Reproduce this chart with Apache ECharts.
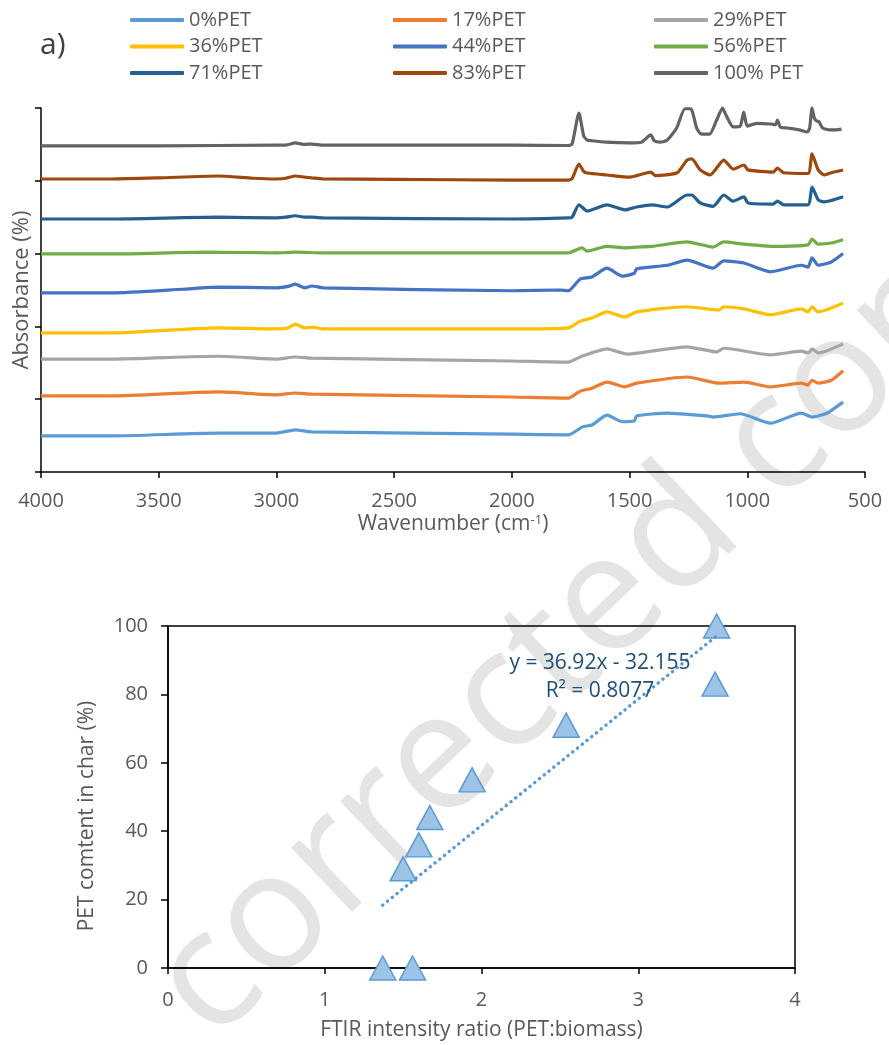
<!DOCTYPE html>
<html><head><meta charset="utf-8">
<script src="https://cdn.jsdelivr.net/npm/echarts@6/dist/echarts.min.js"></script>
<style>html,body{margin:0;padding:0;background:#fff}#c{width:889px;height:1045px}</style>
</head><body><div id="c"></div>
<script>
// ---------- data (top: FTIR spectra, offset absorbance in arbitrary units) ----------
const seriesNames = ['0%PET','17%PET','29%PET','36%PET','44%PET','56%PET','71%PET','83%PET','100% PET'];
const seriesColors = ['#5B9BD5','#ED7D31','#A5A5A5','#FFC000','#4472C4','#70AD47','#255E91','#9E480E','#636363'];

const pet0 = [[4000,0.495],[3700,0.495],[3250,0.535],[3000,0.535],[2920,0.58],[2850,0.55],[2000,0.52],[1760,0.51],[1700,0.62],[1660,0.645],[1596,0.78],[1530,0.69],[1480,0.70],[1470,0.77],[1340,0.81],[1170,0.77],[1145,0.755],[1030,0.80],[902,0.67],[770,0.81],[725,0.755],[660,0.81],[593,0.96]];
const pet17 = [[4000,1.045],[3700,1.045],[3250,1.10],[3000,1.06],[2920,1.085],[2850,1.07],[2000,1.03],[1760,1.015],[1710,1.11],[1660,1.15],[1596,1.235],[1520,1.17],[1470,1.22],[1256,1.305],[1120,1.22],[1014,1.235],[902,1.17],[770,1.22],[742,1.195],[725,1.26],[699,1.22],[643,1.26],[593,1.39]];
const pet29 = [[4000,1.55],[3700,1.55],[3250,1.59],[3000,1.55],[2920,1.58],[2850,1.565],[2000,1.525],[1760,1.51],[1710,1.58],[1596,1.69],[1510,1.62],[1256,1.72],[1130,1.65],[1100,1.70],[902,1.61],[770,1.66],[742,1.635],[725,1.69],[699,1.635],[593,1.76]];
const pet36 = [[4000,1.91],[3700,1.91],[3250,1.98],[3000,1.965],[2950,1.98],[2920,2.03],[2880,1.98],[2850,1.99],[2800,1.965],[2000,1.965],[1760,1.98],[1710,2.07],[1660,2.115],[1596,2.20],[1520,2.13],[1470,2.20],[1256,2.27],[1120,2.225],[1100,2.27],[1014,2.24],[902,2.16],[770,2.24],[742,2.20],[725,2.27],[699,2.20],[593,2.32]];
const pet44 = [[4000,2.46],[3700,2.46],[3400,2.51],[3250,2.54],[3000,2.53],[2950,2.55],[2920,2.58],[2880,2.53],[2850,2.555],[2800,2.53],[2000,2.49],[1800,2.50],[1760,2.49],[1710,2.65],[1660,2.68],[1596,2.80],[1530,2.69],[1480,2.73],[1470,2.79],[1340,2.84],[1256,2.91],[1145,2.80],[1100,2.90],[1014,2.87],[902,2.75],[770,2.84],[742,2.815],[725,2.94],[699,2.84],[643,2.885],[593,3.0]];
const pet56 = [[4000,2.995],[3700,2.995],[3300,3.02],[3000,3.01],[2920,3.02],[2800,3.01],[2000,3.01],[1760,3.01],[1702,3.08],[1680,3.035],[1596,3.10],[1520,3.08],[1470,3.09],[1404,3.10],[1256,3.16],[1145,3.09],[1100,3.16],[1014,3.13],[890,3.10],[742,3.12],[725,3.20],[699,3.13],[643,3.145],[593,3.19]];
const pet71 = [[4000,3.475],[3700,3.475],[3250,3.50],[3000,3.49],[2960,3.50],[2920,3.52],[2880,3.50],[2850,3.50],[2800,3.49],[2000,3.475],[1760,3.49],[1744,3.50],[1715,3.67],[1680,3.585],[1596,3.67],[1520,3.60],[1470,3.64],[1404,3.67],[1340,3.64],[1256,3.805],[1236,3.805],[1200,3.695],[1145,3.65],[1100,3.805],[1060,3.72],[1014,3.78],[997,3.695],[890,3.68],[872,3.72],[845,3.67],[742,3.67],[725,3.915],[699,3.74],[673,3.71],[593,3.78]];
const pet83 = [[4000,4.025],[3700,4.025],[3500,4.04],[3250,4.066],[3100,4.035],[3000,4.025],[2960,4.035],[2920,4.066],[2880,4.05],[2850,4.04],[2800,4.025],[2500,4.02],[2000,4.01],[1760,4.01],[1744,4.03],[1715,4.23],[1695,4.13],[1680,4.107],[1596,4.08],[1498,4.05],[1410,4.12],[1390,4.07],[1298,4.11],[1256,4.285],[1236,4.30],[1200,4.15],[1158,4.08],[1100,4.285],[1060,4.16],[1014,4.217],[997,4.15],[890,4.12],[872,4.175],[845,4.11],[742,4.10],[725,4.37],[699,4.15],[673,4.08],[643,4.11],[593,4.148]];
const pet100 = [[4000,4.48],[3500,4.48],[3000,4.49],[2960,4.49],[2920,4.52],[2885,4.50],[2850,4.505],[2800,4.49],[2500,4.49],[2000,4.49],[1760,4.485],[1744,4.505],[1715,4.93],[1695,4.62],[1680,4.56],[1660,4.55],[1600,4.53],[1500,4.52],[1450,4.53],[1410,4.63],[1395,4.55],[1370,4.53],[1340,4.56],[1300,4.725],[1265,4.99],[1240,4.99],[1215,4.725],[1195,4.64],[1160,4.64],[1130,4.835],[1105,5.0],[1090,4.90],[1060,4.74],[1030,4.75],[1015,4.945],[1000,4.75],[960,4.79],[900,4.78],[880,4.77],[872,4.835],[860,4.74],[830,4.725],[780,4.70],[745,4.67],[735,4.725],[725,5.0],[715,4.86],[705,4.82],[695,4.81],[680,4.725],[650,4.70],[620,4.70],[600,4.71]];
const spectra = [pet0, pet17, pet29, pet36, pet44, pet56, pet71, pet83, pet100];

// ---------- data (bottom: scatter + linear trend) ----------
const ratioX = [1.37, 1.56, 1.50, 1.60, 1.67, 1.94, 2.54, 3.49, 3.50];
const petContent = [0, 0, 29, 36, 44, 55, 71, 83, 100];
const trendX = [1.37, 3.50];
const trendY = [18.4, 97.1];
const equationText = 'y = 36.92x - 32.155';
const r2Text = 'R\u00B2 = 0.8077';
const watermarkText = 'corrected copy only';

const F = '"Open Sans", "Noto Sans", sans-serif';
const GRAY = '#595959';
const plain = v => String(v);

const chart = echarts.init(document.getElementById('c'));

const lineSeries = seriesNames.map((n, i) => ({
  name: n, type: 'line', xAxisIndex: 0, yAxisIndex: 0,
  data: spectra[i], showSymbol: false, symbol: 'none', smooth: 0.2, clip: false,
  lineStyle: { width: 3.2, color: seriesColors[i] }, itemStyle: { color: seriesColors[i] },
  emphasis: { disabled: true }, silent: true
}));

const legendBase = {
  orient: 'vertical', itemWidth: 54, itemHeight: 4, itemGap: 6.5, icon: 'roundRect', padding: 0,
  textStyle: { fontSize: 20, color: GRAY, fontFamily: F }, selectedMode: false
};

const option = {
  animation: false,
  backgroundColor: '#fff',
  textStyle: { fontFamily: F },
  legend: [
    Object.assign({}, legendBase, { left: 130, top: 10, data: [seriesNames[0], seriesNames[3], seriesNames[6]] }),
    Object.assign({}, legendBase, { left: 393, top: 10, data: [seriesNames[1], seriesNames[4], seriesNames[7]] }),
    Object.assign({}, legendBase, { left: 654, top: 10, data: [seriesNames[2], seriesNames[5], seriesNames[8]] })
  ],
  grid: [
    { left: 41, right: 24, top: 108, bottom: 573, outerBoundsMode: 'none' },
    { left: 168, right: 94, top: 626, bottom: 77, show: true, borderColor: '#000', borderWidth: 1.5, outerBoundsMode: 'none' }
  ],
  xAxis: [
    { gridIndex: 0, type: 'value', min: 500, max: 4000, interval: 500, inverse: true,
      axisLine: { onZero: false, lineStyle: { color: '#000', width: 1.5 } },
      axisTick: { length: 6, lineStyle: { color: '#000', width: 1.5 } },
      axisLabel: { fontSize: 20, color: GRAY, margin: 19, fontFamily: F, formatter: plain },
      splitLine: { show: false },
      name: 'Wavenumber (cm{sup|-1})', nameLocation: 'middle', nameGap: 42, nameMoveOverlap: false,
      nameTextStyle: { fontSize: 21, color: GRAY, fontFamily: F,
        rich: { sup: { fontSize: 13, color: GRAY, fontFamily: F, verticalAlign: 'top' } } } },
    { gridIndex: 1, type: 'value', min: 0, max: 4, interval: 1,
      axisLine: { onZero: false, lineStyle: { color: '#000', width: 1.5 } },
      axisTick: { length: 6, lineStyle: { color: '#000', width: 1.5 } },
      axisLabel: { fontSize: 20, color: GRAY, margin: 22, fontFamily: F, formatter: plain },
      splitLine: { show: false },
      name: 'FTIR intensity ratio (PET:biomass)', nameLocation: 'middle', nameGap: 52, nameMoveOverlap: false,
      nameTextStyle: { fontSize: 21, color: GRAY, fontFamily: F } }
  ],
  yAxis: [
    { gridIndex: 0, type: 'value', min: 0, max: 5, interval: 1,
      axisLine: { show: true, onZero: false, lineStyle: { color: '#000', width: 1.5 } },
      axisTick: { show: true, length: 6, lineStyle: { color: '#000', width: 1.5 } },
      axisLabel: { show: false }, splitLine: { show: false },
      name: 'Absorbance (%)', nameLocation: 'middle', nameGap: 8, nameMoveOverlap: false,
      nameTextStyle: { fontSize: 22, color: GRAY, fontFamily: F } },
    { gridIndex: 1, type: 'value', min: 0, max: 100, interval: 20,
      axisLine: { show: true, onZero: false, lineStyle: { color: '#000', width: 1.5 } },
      axisTick: { show: true, length: 7, lineStyle: { color: '#000', width: 1.5 } },
      axisLabel: { fontSize: 20, color: GRAY, margin: 20, fontFamily: F, formatter: plain },
      splitLine: { show: false } }
  ],
  graphic: [
    { type: 'text', z: -10, x: 237, y: 1070, rotation: 0.76,
      style: { text: watermarkText, fontSize: 165, fontFamily: F, fill: '#e4e4e4', align: 'left', verticalAlign: 'bottom' } },
    { type: 'text', x: 40, y: 45, style: { text: 'a)', fontSize: 30, fontFamily: F, fill: '#404040', align: 'left', verticalAlign: 'middle' } },
    { type: 'text', x: 87, y: 816, rotation: Math.PI / 2,
      style: { text: 'PET comtent in char (%)', fontSize: 21, fontFamily: F, fill: GRAY, align: 'center', verticalAlign: 'middle' } },
    { type: 'text', x: 600, y: 663, z: 10, style: { text: equationText, fontSize: 21, fontFamily: F, fill: '#1F4E79', align: 'center', verticalAlign: 'middle' } },
    { type: 'text', x: 600, y: 691, z: 10, style: { text: r2Text, fontSize: 21, fontFamily: F, fill: '#1F4E79', align: 'center', verticalAlign: 'middle' } }
  ],
  series: lineSeries.concat([
    { type: 'scatter', xAxisIndex: 1, yAxisIndex: 1, silent: true, clip: false,
      data: ratioX.map((x, i) => [x, petContent[i]]),
      symbol: 'triangle', symbolSize: [26, 24], z: 3,
      itemStyle: { color: '#9DC3E6', borderColor: '#5B9BD5', borderWidth: 1.5, opacity: 1 } },
    { type: 'line', xAxisIndex: 1, yAxisIndex: 1, silent: true, symbol: 'none', showSymbol: false, z: 4,
      data: trendX.map((x, i) => [x, trendY[i]]),
      lineStyle: { color: '#5B9BD5', width: 3.5, type: [0.1, 6], cap: 'round' } }
  ])
};
chart.setOption(option);
</script>
</body></html>
